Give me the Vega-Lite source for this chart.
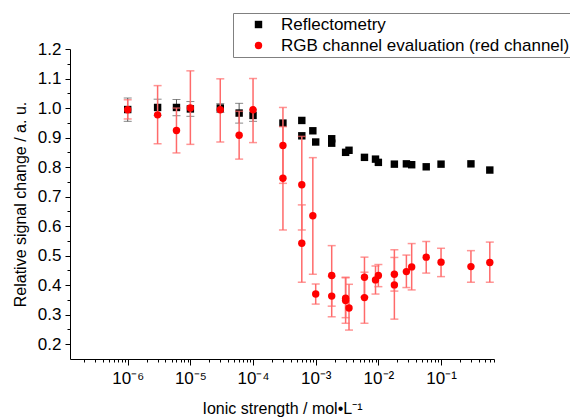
{
  "$schema": "https://vega.github.io/schema/vega-lite/v6.json",
  "width": 424,
  "height": 310,
  "autosize": {"type": "none"},
  "padding": {"left": 70, "top": 49, "right": 76, "bottom": 61},
  "background": "white",
  "config": {
    "view": {"stroke": null},
    "font": "Liberation Sans",
    "axis": {"domainColor": "black", "tickColor": "black", "labelColor": "black", "titleColor": "black", "grid": false, "labelFont": "Liberation Sans", "titleFont": "Liberation Sans", "titleFontWeight": "normal", "labelFontSize": 17, "titleFontSize": 16}
  },
  "data": {"values": [
    {"series": "Reflectometry", "x": 1e-6, "y": 0.995, "lo": 0.955, "hi": 1.034},
    {"series": "Reflectometry", "x": 3e-6, "y": 1.002, "lo": 0.975, "hi": 1.03},
    {"series": "Reflectometry", "x": 6e-6, "y": 1.002, "lo": 0.974, "hi": 1.029},
    {"series": "Reflectometry", "x": 1e-5, "y": 0.997, "lo": 0.972, "hi": 1.022},
    {"series": "Reflectometry", "x": 3e-5, "y": 1.0, "lo": 0.985, "hi": 1.015},
    {"series": "Reflectometry", "x": 6e-5, "y": 0.983, "lo": 0.949, "hi": 1.016},
    {"series": "Reflectometry", "x": 1e-4, "y": 0.975, "lo": 0.955, "hi": 0.994},
    {"series": "Reflectometry", "x": 3e-4, "y": 0.949},
    {"series": "Reflectometry", "x": 6e-4, "y": 0.958},
    {"series": "Reflectometry", "x": 6e-4, "y": 0.906},
    {"series": "Reflectometry", "x": 9e-4, "y": 0.923},
    {"series": "Reflectometry", "x": 1e-3, "y": 0.885},
    {"series": "Reflectometry", "x": 1.8e-3, "y": 0.896},
    {"series": "Reflectometry", "x": 1.8e-3, "y": 0.881},
    {"series": "Reflectometry", "x": 3e-3, "y": 0.85},
    {"series": "Reflectometry", "x": 3.4e-3, "y": 0.857},
    {"series": "Reflectometry", "x": 6e-3, "y": 0.833},
    {"series": "Reflectometry", "x": 9e-3, "y": 0.827},
    {"series": "Reflectometry", "x": 1e-2, "y": 0.816},
    {"series": "Reflectometry", "x": 1.8e-2, "y": 0.81},
    {"series": "Reflectometry", "x": 2.8e-2, "y": 0.811},
    {"series": "Reflectometry", "x": 3.4e-2, "y": 0.808},
    {"series": "Reflectometry", "x": 5.8e-2, "y": 0.801},
    {"series": "Reflectometry", "x": 0.1, "y": 0.81},
    {"series": "Reflectometry", "x": 0.3, "y": 0.811},
    {"series": "Reflectometry", "x": 0.6, "y": 0.79},
    {"series": "RGB channel evaluation (red channel)", "x": 1e-6, "y": 0.994, "lo": 0.963, "hi": 1.028},
    {"series": "RGB channel evaluation (red channel)", "x": 3e-6, "y": 0.977, "lo": 0.879, "hi": 1.076},
    {"series": "RGB channel evaluation (red channel)", "x": 6e-6, "y": 0.924, "lo": 0.848, "hi": 1.0},
    {"series": "RGB channel evaluation (red channel)", "x": 1e-5, "y": 1.0, "lo": 0.877, "hi": 1.126},
    {"series": "RGB channel evaluation (red channel)", "x": 3e-5, "y": 0.994, "lo": 0.885, "hi": 1.099},
    {"series": "RGB channel evaluation (red channel)", "x": 6e-5, "y": 0.908, "lo": 0.827, "hi": 0.989},
    {"series": "RGB channel evaluation (red channel)", "x": 1e-4, "y": 0.994, "lo": 0.883, "hi": 1.1},
    {"series": "RGB channel evaluation (red channel)", "x": 3e-4, "y": 0.873, "lo": 0.745, "hi": 1.002},
    {"series": "RGB channel evaluation (red channel)", "x": 3e-4, "y": 0.762, "lo": 0.587, "hi": 0.937},
    {"series": "RGB channel evaluation (red channel)", "x": 6e-4, "y": 0.74, "lo": 0.587, "hi": 0.904},
    {"series": "RGB channel evaluation (red channel)", "x": 6e-4, "y": 0.542, "lo": 0.41, "hi": 0.672},
    {"series": "RGB channel evaluation (red channel)", "x": 9e-4, "y": 0.635, "lo": 0.437, "hi": 0.832},
    {"series": "RGB channel evaluation (red channel)", "x": 1e-3, "y": 0.37, "lo": 0.336, "hi": 0.404},
    {"series": "RGB channel evaluation (red channel)", "x": 1.8e-3, "y": 0.433, "lo": 0.329, "hi": 0.534},
    {"series": "RGB channel evaluation (red channel)", "x": 1.8e-3, "y": 0.363, "lo": 0.293, "hi": 0.43},
    {"series": "RGB channel evaluation (red channel)", "x": 3e-3, "y": 0.356, "lo": 0.29, "hi": 0.425},
    {"series": "RGB channel evaluation (red channel)", "x": 3e-3, "y": 0.348, "lo": 0.271, "hi": 0.427},
    {"series": "RGB channel evaluation (red channel)", "x": 3.4e-3, "y": 0.323, "lo": 0.248, "hi": 0.403},
    {"series": "RGB channel evaluation (red channel)", "x": 6e-3, "y": 0.427, "lo": 0.36, "hi": 0.495},
    {"series": "RGB channel evaluation (red channel)", "x": 6e-3, "y": 0.358, "lo": 0.271, "hi": 0.444},
    {"series": "RGB channel evaluation (red channel)", "x": 9e-3, "y": 0.418, "lo": 0.37, "hi": 0.465},
    {"series": "RGB channel evaluation (red channel)", "x": 1e-2, "y": 0.433, "lo": 0.395, "hi": 0.47},
    {"series": "RGB channel evaluation (red channel)", "x": 1.8e-2, "y": 0.437, "lo": 0.38, "hi": 0.494},
    {"series": "RGB channel evaluation (red channel)", "x": 1.8e-2, "y": 0.401, "lo": 0.285, "hi": 0.52},
    {"series": "RGB channel evaluation (red channel)", "x": 2.8e-2, "y": 0.446, "lo": 0.392, "hi": 0.502},
    {"series": "RGB channel evaluation (red channel)", "x": 3.4e-2, "y": 0.462, "lo": 0.384, "hi": 0.541},
    {"series": "RGB channel evaluation (red channel)", "x": 5.8e-2, "y": 0.495, "lo": 0.441, "hi": 0.548},
    {"series": "RGB channel evaluation (red channel)", "x": 0.1, "y": 0.478, "lo": 0.429, "hi": 0.525},
    {"series": "RGB channel evaluation (red channel)", "x": 0.3, "y": 0.463, "lo": 0.41, "hi": 0.517},
    {"series": "RGB channel evaluation (red channel)", "x": 0.6, "y": 0.477, "lo": 0.41, "hi": 0.546}
  ]},
  "resolve": {"axis": {"x": "independent", "y": "independent"}},
  "layer": [
    {
      "transform": [{"filter": "datum.series == 'Reflectometry' && isValid(datum.lo)"}],
      "mark": {"type": "rule", "color": "#555555", "strokeWidth": 1},
      "encoding": {
        "x": {"field": "x", "type": "quantitative", "scale": {"type": "log", "domain": [1.2e-7, 0.7], "nice": false},
          "axis": {"orient": "bottom", "values": [2e-7,3e-7,4e-7,5e-7,6e-7,7e-7,8e-7,9e-7,2e-6,3e-6,4e-6,5e-6,6e-6,7e-6,8e-6,9e-6,2e-5,3e-5,4e-5,5e-5,6e-5,7e-5,8e-5,9e-5,2e-4,3e-4,4e-4,5e-4,6e-4,7e-4,8e-4,9e-4,2e-3,3e-3,4e-3,5e-3,6e-3,7e-3,8e-3,9e-3,2e-2,3e-2,4e-2,5e-2,6e-2,7e-2,8e-2,9e-2,0.2,0.3,0.4,0.5,0.6,0.7], "labels": false, "domain": false, "tickSize": 3, "title": null}},
        "y": {"field": "lo", "type": "quantitative", "scale": {"domain": [0.15, 1.2], "nice": false, "zero": false},
          "axis": {"orient": "left", "values": [0.25,0.35,0.45,0.55,0.65,0.75,0.85,0.95,1.05,1.15], "labels": false, "domain": false, "tickSize": 3, "title": null}},
        "y2": {"field": "hi"}
      }
    },
    {
      "transform": [{"filter": "datum.series == 'Reflectometry' && isValid(datum.lo)"}, {"fold": ["lo", "hi"], "as": ["end", "v"]}],
      "mark": {"type": "tick", "orient": "horizontal", "color": "#555555", "size": 8, "thickness": 1},
      "encoding": {
        "x": {"field": "x", "type": "quantitative", "axis": null},
        "y": {"field": "v", "type": "quantitative", "axis": null}
      }
    },
    {
      "transform": [{"filter": "datum.series == 'Reflectometry'"}],
      "mark": {"type": "point", "filled": true, "size": 55, "opacity": 1, "strokeWidth": 0},
      "encoding": {
        "x": {"field": "x", "type": "quantitative",
          "axis": {"orient": "bottom", "values": [1e-6, 1e-5, 1e-4, 1e-3, 1e-2, 1e-1], "labelExpr": "['10⁻⁷','10⁻⁶','10⁻⁵','10⁻⁴','10⁻³','10⁻²','10⁻¹','10⁰'][round(log(datum.value)/LN10)+7]", "tickSize": 6, "labelPadding": 5, "title": "Ionic strength / mol•L⁻¹", "titlePadding": 14}},
        "y": {"field": "y", "type": "quantitative",
          "axis": {"orient": "left", "values": [0.2,0.3,0.4,0.5,0.6,0.7,0.8,0.9,1.0,1.1,1.2], "format": ".1f", "tickSize": 5, "labelPadding": 4, "title": "Relative signal change / a. u.", "titlePadding": 9}},
        "color": {"field": "series", "type": "nominal", "scale": {"domain": ["Reflectometry", "RGB channel evaluation (red channel)"], "range": ["black", "#ff0000"]},
          "legend": {"orient": "none", "legendX": 163, "legendY": -36, "title": null, "strokeColor": "#808080", "fillColor": "white", "padding": 3, "symbolOffset": 14, "labelFontSize": 17, "labelFont": "Liberation Sans", "labelColor": "black", "labelOffset": 14, "labelLimit": 400, "rowPadding": 3, "symbolSize": 55}},
        "shape": {"field": "series", "type": "nominal", "scale": {"domain": ["Reflectometry", "RGB channel evaluation (red channel)"], "range": ["square", "circle"]}}
      }
    },
    {
      "transform": [{"filter": "datum.series != 'Reflectometry' && isValid(datum.lo)"}],
      "mark": {"type": "rule", "color": "#ff6a6a", "strokeWidth": 1.5},
      "encoding": {
        "x": {"field": "x", "type": "quantitative", "axis": null},
        "y": {"field": "lo", "type": "quantitative", "axis": null},
        "y2": {"field": "hi"}
      }
    },
    {
      "transform": [{"filter": "datum.series != 'Reflectometry' && isValid(datum.lo)"}, {"fold": ["lo", "hi"], "as": ["end", "v"]}],
      "mark": {"type": "tick", "orient": "horizontal", "color": "#ff6a6a", "size": 8, "thickness": 1.5},
      "encoding": {
        "x": {"field": "x", "type": "quantitative", "axis": null},
        "y": {"field": "v", "type": "quantitative", "axis": null}
      }
    },
    {
      "transform": [{"filter": "datum.series != 'Reflectometry'"}],
      "mark": {"type": "point", "filled": true, "size": 55, "opacity": 1, "strokeWidth": 0},
      "encoding": {
        "x": {"field": "x", "type": "quantitative", "axis": null},
        "y": {"field": "y", "type": "quantitative", "axis": null},
        "color": {"field": "series", "type": "nominal"},
        "shape": {"field": "series", "type": "nominal"}
      }
    }
  ]
}
